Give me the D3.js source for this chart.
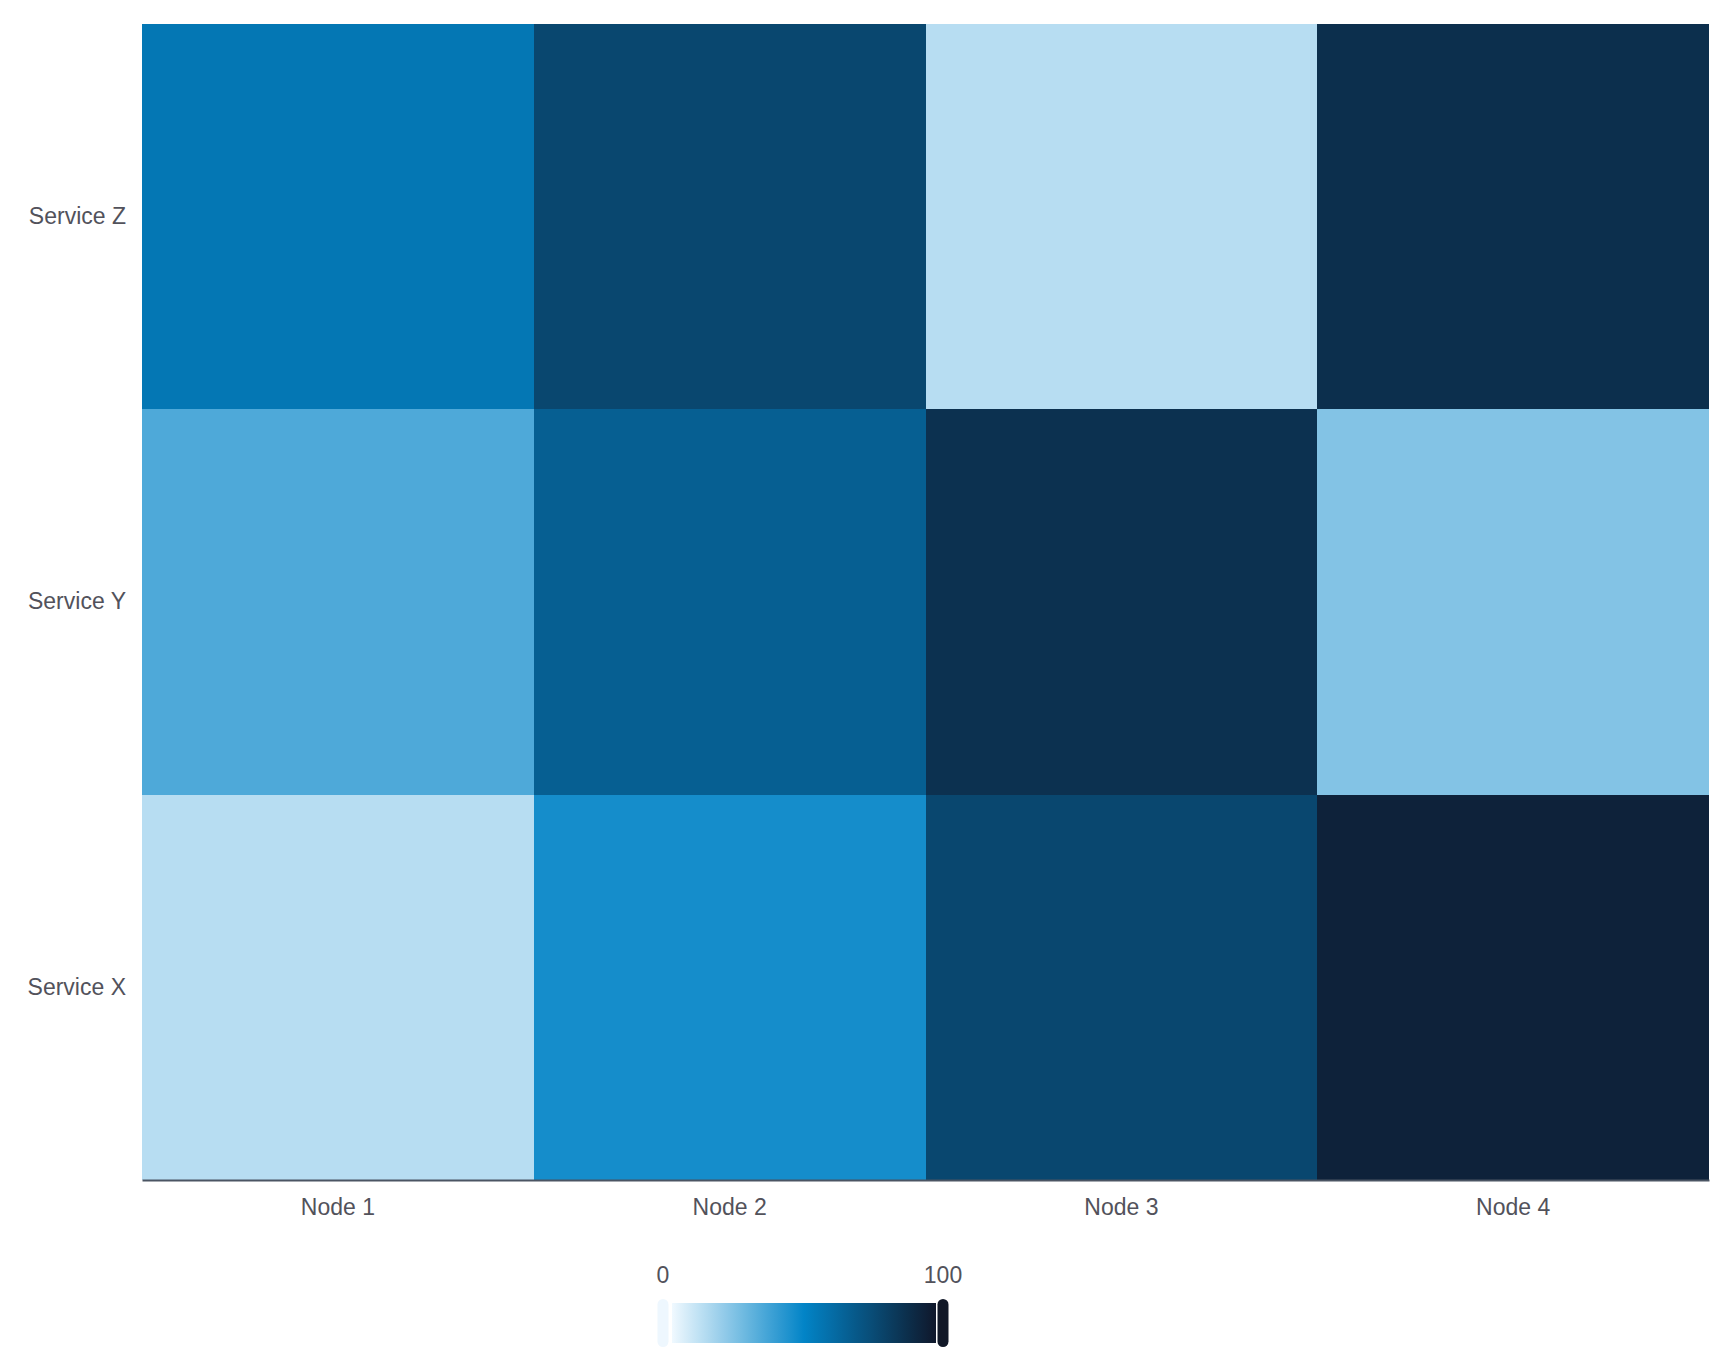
<!DOCTYPE html>
<html>
<head>
<meta charset="utf-8">
<script src="https://cdn.jsdelivr.net/npm/d3@7"></script>
<style>
  body { margin: 0; background: #fff; }
  text { font-family: "Liberation Sans", Arial, sans-serif; }
</style>
</head>
<body>
<div id="chart"></div>
<script>
// data
const nodes = ["Node 1", "Node 2", "Node 3", "Node 4"];
const services = ["Service Z", "Service Y", "Service X"]; // top to bottom
const load = {
  "Service Z": [56, 78, 12, 89],
  "Service Y": [34, 67, 88, 23],
  "Service X": [12, 46, 78, 95]
};
const legendTicks = [0, 100];

const width = 1735;
const height = 1371;
const margin = { top: 24, right: 26, bottom: 191, left: 142 };
const textColor = "#52525b";

const cells = [];
services.forEach(s => load[s].forEach((v, i) => cells.push({ service: s, node: nodes[i], value: v })));

const x = d3.scaleBand().domain(nodes).range([margin.left, width - margin.right]);
const y = d3.scaleBand().domain(services).range([margin.top, height - margin.bottom]);
const color = d3.scaleLinear()
  .domain([0, 50, 100])
  .range(["#f0f9ff", "#0284c7", "#0f172a"]);

const svg = d3.select("#chart")
  .append("svg")
  .attr("width", width)
  .attr("height", height);

svg.append("g")
  .selectAll("rect")
  .data(cells)
  .enter().append("rect")
  .attr("x", d => x(d.node))
  .attr("y", d => y(d.service))
  .attr("width", x.bandwidth())
  .attr("height", y.bandwidth())
  .attr("fill", d => color(d.value))
  .attr("shape-rendering", "crispEdges");

// x axis
const xAxis = svg.append("g")
  .attr("transform", `translate(0,${height - margin.bottom})`)
  .call(d3.axisBottom(x).tickSize(0).tickPadding(19));
xAxis.select(".domain").attr("stroke", "#4b5563").attr("stroke-width", 2);
xAxis.selectAll("text").attr("font-size", "23px").attr("fill", textColor)
  .style("font-family", "'Liberation Sans', Arial, sans-serif");

// y axis
const yAxis = svg.append("g")
  .attr("transform", `translate(${margin.left},0)`)
  .call(d3.axisLeft(y).tickSize(0).tickPadding(16));
yAxis.select(".domain").remove();
yAxis.selectAll("text").attr("font-size", "23px").attr("fill", textColor)
  .style("font-family", "'Liberation Sans', Arial, sans-serif");

// colour legend
const lx = d3.scaleLinear().domain([0, 100]).range([663, 943]);
const defs = svg.append("defs");
const grad = defs.append("linearGradient").attr("id", "legendGrad");
d3.range(0, 101, 5).forEach(t => {
  grad.append("stop").attr("offset", t + "%").attr("stop-color", color(t));
});

const legend = svg.append("g");
legend.append("rect")
  .attr("x", lx(0) + 9)
  .attr("y", 1303)
  .attr("width", lx(100) - lx(0) - 16)
  .attr("height", 40)
  .attr("fill", "url(#legendGrad)");

legend.selectAll(".cap")
  .data(legendTicks)
  .enter().append("rect")
  .attr("class", "cap")
  .attr("x", d => lx(d) - 5.5)
  .attr("y", 1299)
  .attr("width", 11)
  .attr("height", 48)
  .attr("rx", 5.5)
  .attr("fill", d => d === 0 ? "#eef7fe" : "#111827");

legend.selectAll(".lbl")
  .data(legendTicks)
  .enter().append("text")
  .attr("class", "lbl")
  .attr("x", d => lx(d))
  .attr("y", 1283)
  .attr("text-anchor", "middle")
  .attr("font-size", "23px")
  .attr("fill", textColor)
  .text(d => d);
</script>
</body>
</html>
